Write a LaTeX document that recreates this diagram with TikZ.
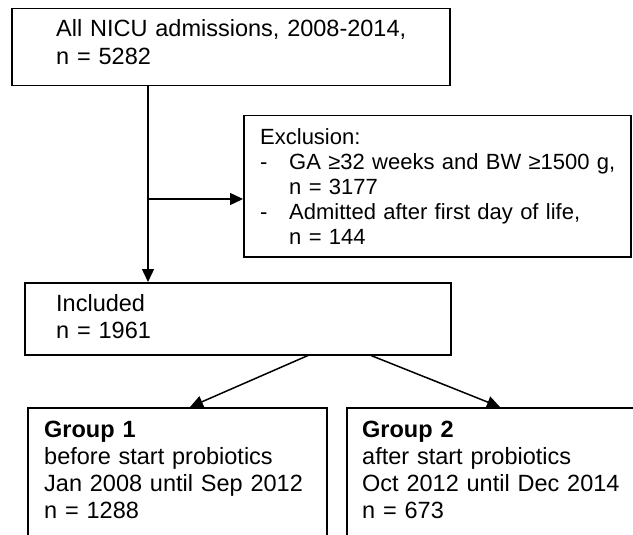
\documentclass[tikz,border=0pt]{standalone}
\usepackage{fontspec}
\setmainfont{Liberation Sans}
\usetikzlibrary{arrows.meta,calc}
\begin{document}
\begin{tikzpicture}[x=1pt,y=-1pt,
  box/.style={draw=black, line width=1.5pt, rectangle, inner sep=0pt, anchor=north west},
  txt/.style={inner sep=0pt, anchor=base west, align=left, font=\fontsize{23.5}{27}\selectfont},
  conn/.style={line width=1.5pt, -{Triangle[length=13pt,width=12pt]}}
]
\clip (0,0) rectangle (633,535);
\fill[white] (0,0) rectangle (633,535);
% boxes
\node[box, minimum width=438pt, minimum height=77pt] (top) at (11,8) {};
\node[box, minimum width=387pt, minimum height=141pt] (excl) at (243,115) {};
\node[box, minimum width=426pt, minimum height=72pt] (incl) at (24,282) {};
\node[box, minimum width=299pt, minimum height=160pt] (g1) at (27,407) {};
\node[box, minimum width=299pt, minimum height=160pt] (g2) at (346,407) {};
% texts
\node[txt, text width=450pt, font=\fontsize{23.5}{28}\selectfont] (ttop) at (56,37) {All NICU admissions, 2008-2014,\\n = 5282};
\node[txt, text width=450pt, font=\fontsize{22}{25}\selectfont] (texcl) at (260,145)
  {Exclusion:\\
   \makebox[29pt][l]{-}GA ≥32 weeks and BW ≥1500 g,\\
   \hspace*{29pt}n = 3177\\
   \makebox[29pt][l]{-}Admitted after first day of life,\\
   \hspace*{29pt}n = 144};
\node[txt, text width=400pt] (tincl) at (56,311) {Included\\n = 1961};
\node[txt, text width=350pt] (tg1) at (44,437) {\textbf{Group 1}\\before start probiotics\\Jan 2008 until Sep 2012\\n = 1288};
\node[txt, text width=350pt] (tg2) at (362,437) {\textbf{Group 2}\\after start probiotics\\Oct 2012 until Dec 2014\\n = 673};
% connectors
\coordinate (j) at (148,199);
\draw[conn] (top.south -| j) -- (incl.north -| j);
\draw[conn] (j) -- (excl.west |- j);
\draw[conn] ($(incl.south west)+(284,0)$) -- ($(g1.north west)+(163,0)$);
\draw[conn] ($(incl.south west)+(347,0)$) -- ($(g2.north west)+(154,0)$);
\end{tikzpicture}
\end{document}
